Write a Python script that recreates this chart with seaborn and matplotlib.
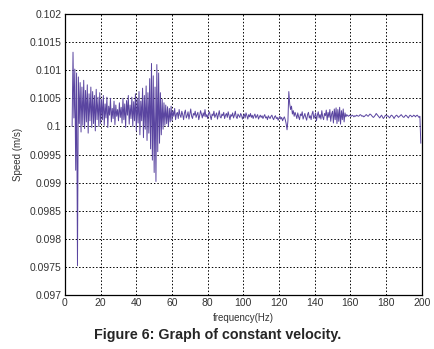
import numpy as np
import matplotlib
matplotlib.use("Agg")
import matplotlib.pyplot as plt
import seaborn as sns

# speed readings in mm/s, sampled every 0.5 Hz from 4 Hz up to 199.5 Hz
speed_4_20 = [100.00, 101.32, 100.15, 101.02, 99.22, 100.95, 97.52, 100.88, 100.05, 100.78,
              99.90, 100.70, 100.02, 100.82, 99.96, 100.64, 100.08, 100.74, 99.88, 100.58,
              100.10, 100.70, 99.98, 100.62, 100.05, 100.55, 99.92, 100.66, 100.12, 100.52,
              100.00, 100.60]
speed_20_40 = [100.05, 100.48, 100.12, 100.55, 100.02, 100.40, 100.15, 100.52, 99.98, 100.36,
               100.20, 100.50, 100.08, 100.32, 100.14, 100.45, 100.03, 100.38, 100.18, 100.30,
               100.10, 100.42, 100.16, 100.34, 100.06, 100.50, 100.12, 100.40, 99.98, 100.46,
               100.20, 100.55, 100.04, 100.38, 100.14, 100.52, 100.00, 100.44, 100.10, 100.58]
speed_40_60 = [99.92, 100.50, 100.06, 100.62, 99.85, 100.45, 100.10, 100.68, 99.80, 100.55,
               99.95, 100.72, 99.75, 100.60, 99.88, 100.85, 99.60, 101.12, 99.40, 100.90,
               99.18, 100.70, 99.02, 101.10, 99.55, 100.95, 99.70, 100.60, 99.85, 100.48,
               99.95, 100.42, 100.02, 100.38, 100.05, 100.35, 100.00, 100.32, 100.08, 100.36]
speed_60_100 = [100.10, 100.28, 100.18, 100.32, 100.12, 100.22, 100.25, 100.14, 100.30, 100.20,
                100.16, 100.27, 100.21, 100.12, 100.24, 100.29, 100.15, 100.19, 100.26, 100.13,
                100.22, 100.31, 100.18, 100.14, 100.23, 100.20, 100.27, 100.16, 100.21, 100.25,
                100.12, 100.19, 100.28, 100.22, 100.15, 100.24, 100.18, 100.30, 100.17, 100.21,
                100.14, 100.23, 100.26, 100.18, 100.12, 100.22, 100.19, 100.27, 100.16, 100.20,
                100.24, 100.13, 100.21, 100.28, 100.17, 100.15, 100.22, 100.19, 100.25, 100.14,
                100.20, 100.23, 100.16, 100.26, 100.19, 100.12, 100.21, 100.18, 100.24, 100.15,
                100.20, 100.27, 100.17, 100.14, 100.22, 100.19, 100.16, 100.23, 100.20, 100.13]
speed_100_130 = [100.18, 100.22, 100.15, 100.24, 100.19, 100.13, 100.21, 100.17, 100.23, 100.16,
                 100.20, 100.14, 100.19, 100.22, 100.15, 100.18, 100.21, 100.13, 100.17, 100.20,
                 100.16, 100.19, 100.14, 100.18, 100.21, 100.15, 100.17, 100.12, 100.19, 100.16,
                 100.14, 100.18, 100.20, 100.15, 100.12, 100.17, 100.19, 100.14, 100.16, 100.11,
                 100.15, 100.18, 100.13, 100.16, 100.10, 100.14, 100.17, 100.12, 100.05, 99.94,
                 100.10, 100.62, 100.40, 100.30, 100.36, 100.22, 100.28, 100.18, 100.25, 100.20]
speed_130_160 = [100.14, 100.24, 100.17, 100.12, 100.22, 100.19, 100.26, 100.13, 100.18, 100.23,
                 100.16, 100.11, 100.21, 100.25, 100.15, 100.19, 100.12, 100.22, 100.27, 100.14,
                 100.18, 100.24, 100.10, 100.20, 100.26, 100.15, 100.21, 100.13, 100.28, 100.17,
                 100.12, 100.23, 100.19, 100.29, 100.11, 100.25, 100.16, 100.30, 100.09, 100.22,
                 100.27, 100.06, 100.31, 100.12, 100.33, 100.05, 100.30, 100.09, 100.34, 100.04,
                 100.28, 100.12, 100.31, 100.08, 100.24, 100.17, 100.21, 100.19, 100.18, 100.20]
speed_160_200 = [100.19, 100.18, 100.20, 100.19, 100.17, 100.19, 100.18, 100.20, 100.19, 100.18,
                 100.19, 100.21, 100.20, 100.18, 100.19, 100.17, 100.18, 100.20, 100.21, 100.19,
                 100.18, 100.20, 100.22, 100.21, 100.19, 100.17, 100.16, 100.18, 100.20, 100.23,
                 100.21, 100.19, 100.17, 100.15, 100.18, 100.20, 100.17, 100.14, 100.16, 100.19,
                 100.20, 100.18, 100.19, 100.17, 100.15, 100.18, 100.20, 100.19, 100.17, 100.14,
                 100.17, 100.19, 100.20, 100.18, 100.16, 100.18, 100.19, 100.21, 100.19, 100.17,
                 100.16, 100.18, 100.20, 100.19, 100.17, 100.15, 100.18, 100.20, 100.19, 100.17,
                 100.18, 100.20, 100.19, 100.17, 100.19, 100.20, 100.18, 100.16, 100.18, 99.70]

speed_mm = (speed_4_20 + speed_20_40 + speed_40_60 + speed_60_100
            + speed_100_130 + speed_130_160 + speed_160_200)
speed = np.array(speed_mm) / 1000.0   # m/s
freq = np.arange(4.0, 200.0, 0.5)

x_ticks = [0, 20, 40, 60, 80, 100, 120, 140, 160, 180, 200]
y_ticks = [0.097, 0.0975, 0.098, 0.0985, 0.099, 0.0995, 0.1, 0.1005, 0.101, 0.1015, 0.102]

sns.set_style("white")
plt.rcParams['font.family'] = ['Liberation Sans', 'DejaVu Sans']

fig = plt.figure(figsize=(4.35, 3.49), dpi=100)
ax = fig.add_axes([0.1494, 0.1547, 0.8200, 0.8052])

sns.lineplot(x=freq, y=speed, ax=ax, color='#5a45a0', linewidth=0.7, sort=False)

ax.set_xlim(0, 200)
ax.set_ylim(0.097, 0.102)
ax.set_xticks(x_ticks)
ax.set_yticks(y_ticks)
ax.set_yticklabels(['{:g}'.format(v) for v in y_ticks])
ax.tick_params(labelsize=7.5, colors='#333333', direction='in', length=3, pad=2.5)

#dotted MATLAB-like grid
ax.grid(True, color='black', linestyle=(0, (1.5, 2)), linewidth=0.7)
for s in ax.spines.values():
    s.set_color('black')
    s.set_linewidth(0.9)

ax.set_xlabel('frequency(Hz)', fontsize=7, color='#333333', labelpad=3)
ax.set_ylabel('Speed (m/s)', fontsize=7, color='#333333', labelpad=5)

fig.text(0.5, 0.04, 'Figure 6: Graph of constant velocity.', ha='center', va='center',
         fontsize=10.3, fontweight='bold')

fig.savefig('out.png', dpi=100)
